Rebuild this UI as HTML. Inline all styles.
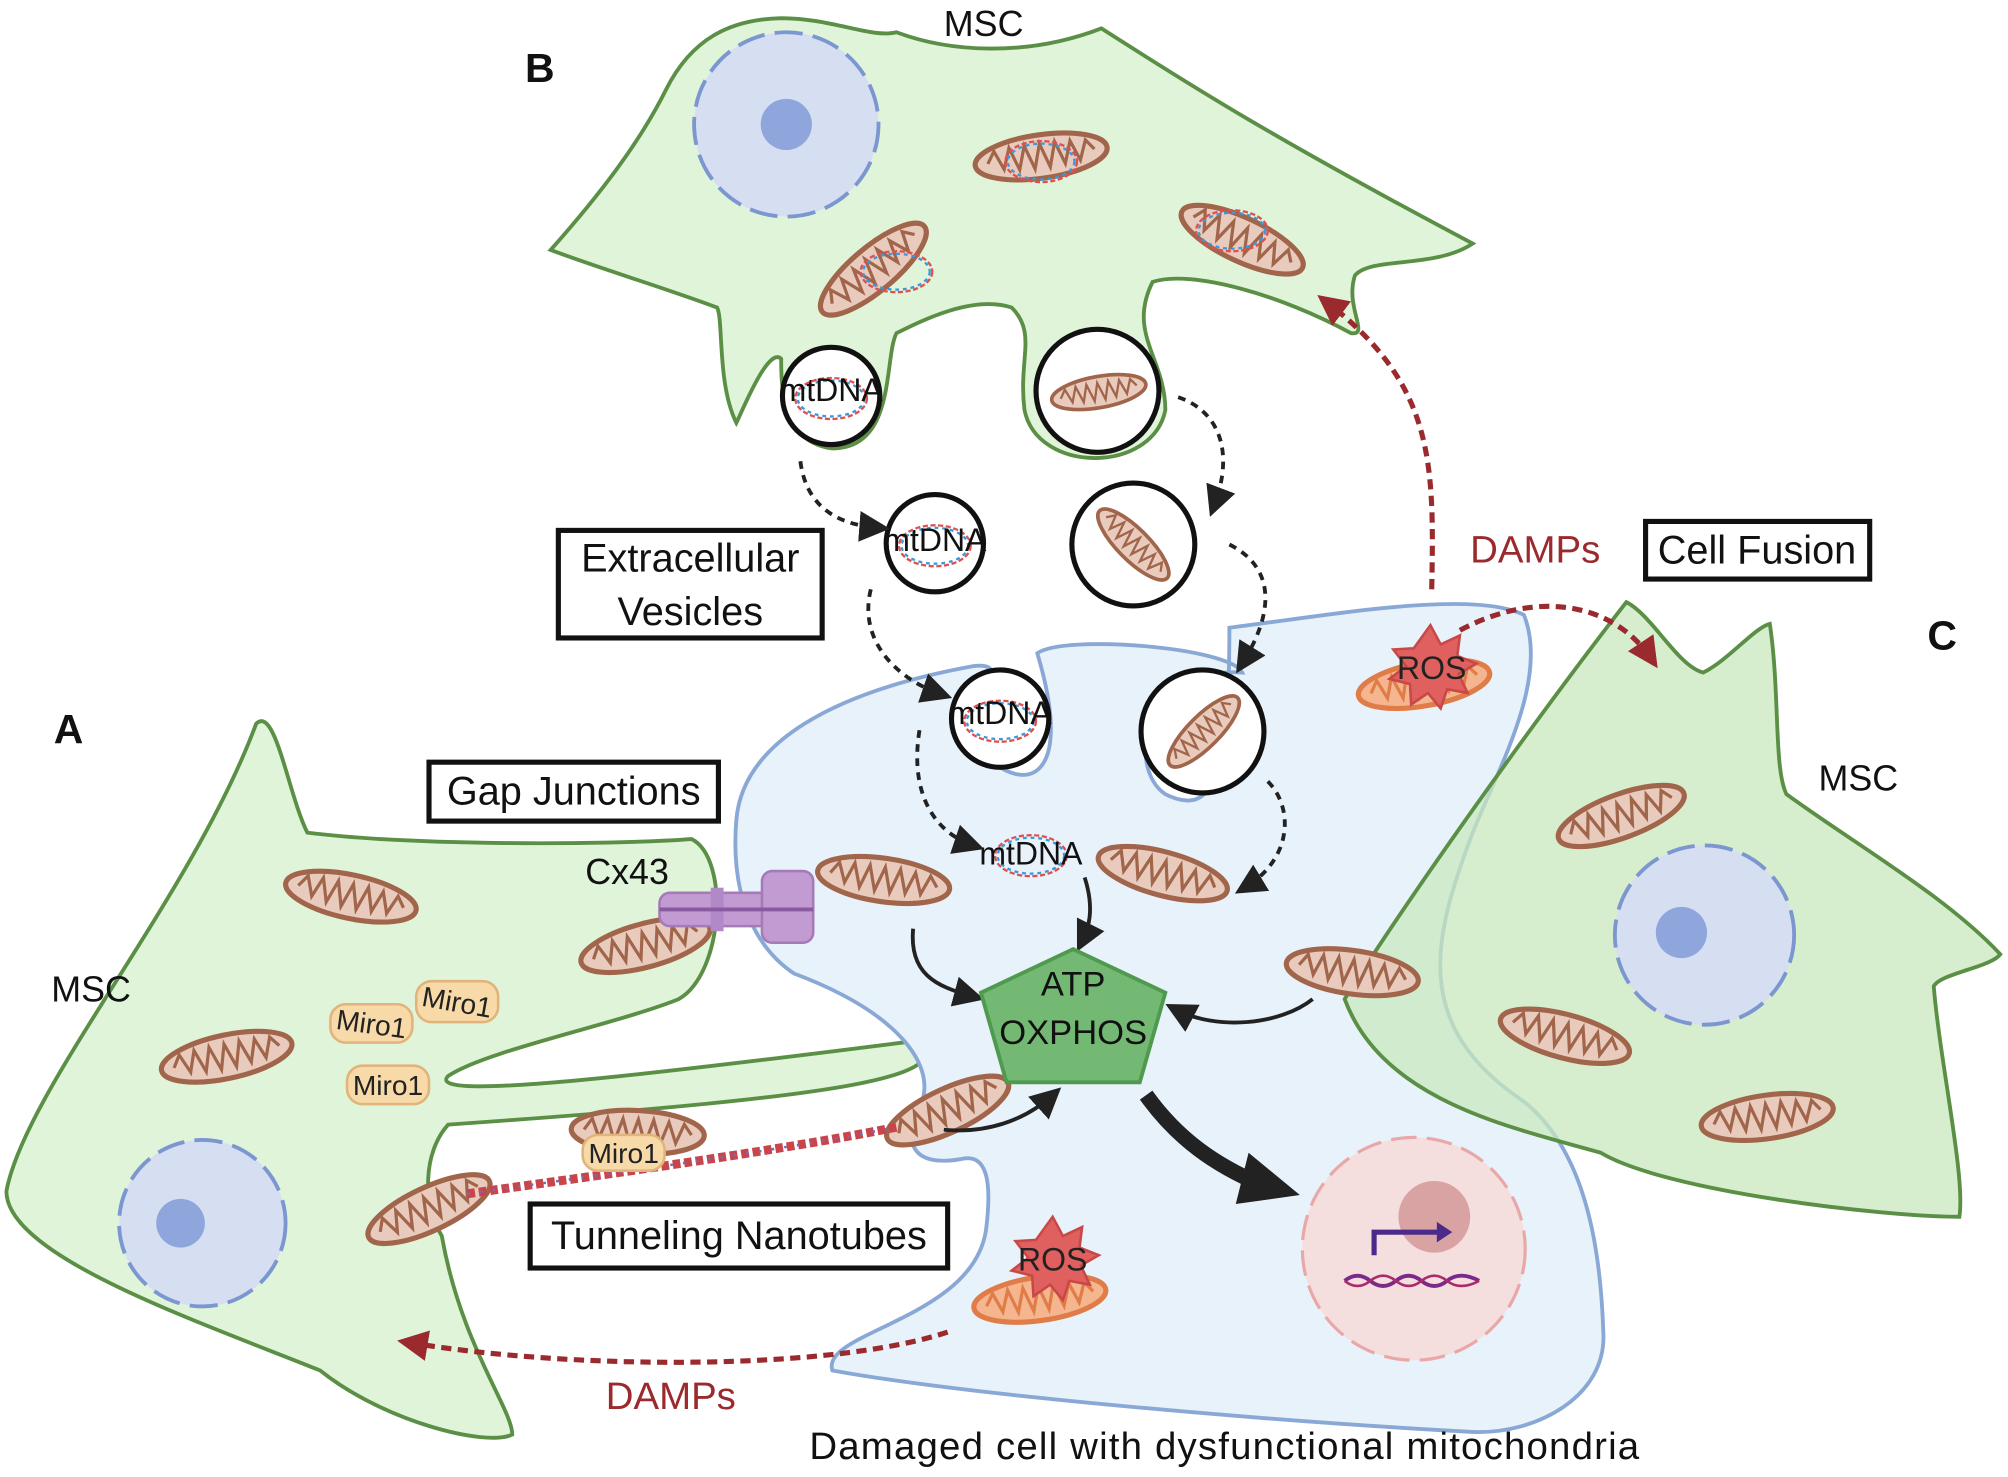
<!DOCTYPE html>
<html><head><meta charset="utf-8"><style>
html,body{margin:0;padding:0;background:#fff}
svg{display:block}
text{font-family:"Liberation Sans",sans-serif}
</style></head><body>
<svg width="2008" height="1477" viewBox="0 0 1568 1153" xmlns="http://www.w3.org/2000/svg">
<defs>
<symbol id="m" viewBox="-60 -22 120 44" overflow="visible">
<ellipse cx="0" cy="0" rx="52" ry="17" fill="#e9cbbd" stroke="#a0654a" stroke-width="4"/>
<path d="M-42 0 L-36 -9 L-30 6 L-24 -10 L-18 8 L-12 -10 L-6 9 L0 -10 L6 9 L12 -10 L18 8 L24 -9 L30 7 L36 -8 L42 0" fill="none" stroke="#a0654a" stroke-width="2.5"/>
</symbol>
<symbol id="mo" viewBox="-60 -22 120 44" overflow="visible">
<ellipse cx="0" cy="0" rx="52" ry="17" fill="#f5b58e" stroke="#e07c48" stroke-width="4"/>
<path d="M-42 0 L-36 -9 L-30 6 L-24 -10 L-18 8 L-12 -10 L-6 9 L0 -10 L6 9 L12 -10 L18 8 L24 -9 L30 7 L36 -8 L42 0" fill="none" stroke="#e07c48" stroke-width="2.5"/>
</symbol>
<symbol id="dna" viewBox="-30 -20 60 40" overflow="visible">
<ellipse cx="0" cy="0" rx="28" ry="16" fill="none" stroke="#e05050" stroke-width="1.8" stroke-dasharray="4 2"/>
<ellipse cx="0" cy="0" rx="26" ry="14" fill="none" stroke="#3a9ad9" stroke-width="1.8" stroke-dasharray="3 3"/>
</symbol>
<marker id="ab" markerWidth="8" markerHeight="8" refX="5" refY="4" orient="auto" markerUnits="strokeWidth"><path d="M0 0 L8 4 L0 8 z" fill="#222"/></marker>
<marker id="ar" markerWidth="6" markerHeight="6" refX="4" refY="3" orient="auto" markerUnits="strokeWidth"><path d="M0 0 L6 3 L0 6 z" fill="#9b2a2e"/></marker>
</defs>

<!-- A cell -->
<path d="M5 930 C20 850 150 700 200 565 C215 550 225 620 240 650 C320 660 470 660 540 655 C570 670 565 760 530 780 C480 800 380 820 350 840 C330 860 500 840 720 812 C740 840 680 855 350 878 C330 900 330 940 345 965 C360 1050 400 1100 400 1120 C380 1130 300 1110 250 1070 C150 1030 5 980 5 930 Z" fill="#e0f4da" stroke="#5a8f45" stroke-width="3"/>
<!-- Blue damaged cell -->
<path d="M575 640 C580 580 650 540 760 520 C800 515 740 560 770 590 C800 620 840 610 810 510 C830 495 960 505 970 525 C890 520 880 600 910 620 C950 640 960 600 960 490 C1040 480 1150 460 1190 480 C1210 530 1170 600 1150 650 C1120 730 1100 800 1190 860 C1240 900 1250 980 1252 1040 C1255 1090 1200 1120 1150 1118 C1000 1110 760 1090 650 1070 C640 1040 760 1030 770 960 C775 920 770 900 750 905 C720 910 700 900 720 860 C730 830 700 790 620 760 C590 740 570 700 575 640 Z" fill="#e8f2fb" stroke="#8aa8d6" stroke-width="3"/>
<!-- B cell -->
<path d="M430 195 C470 150 500 110 520 70 C540 30 570 15 610 14 C650 14 680 30 700 25 C740 40 800 45 860 22 C920 60 980 100 1150 190 C1120 210 1070 200 1058 215 C1050 240 1070 262 1055 260 C1000 230 930 210 900 220 C880 260 910 280 910 320 C900 370 810 370 800 320 C795 280 810 260 790 240 C760 230 720 250 700 260 C690 280 700 350 650 350 C610 345 610 300 610 280 C600 270 580 320 575 330 C560 300 565 250 560 240 C520 225 470 210 430 195 Z" fill="#e0f4da" stroke="#5a8f45" stroke-width="3"/>
<!-- C cell (semi-transparent) -->
<path d="M1050 780 C1100 700 1200 560 1270 470 C1290 480 1310 520 1330 525 C1350 515 1370 490 1382 487 C1390 540 1385 600 1395 620 C1450 660 1520 700 1562 745 C1555 755 1515 760 1510 770 C1515 830 1535 920 1530 950 C1470 950 1300 930 1250 900 C1180 880 1080 860 1050 780 Z" fill="rgba(200,232,190,0.75)" stroke="#5a8f45" stroke-width="3"/>

<!-- nuclei -->
<g fill="#d6def2" stroke="#7c96d0" stroke-width="3" stroke-dasharray="22 8">
<circle cx="614" cy="97" r="72"/>
<circle cx="158" cy="955" r="65"/>
<circle cx="1331" cy="730" r="70"/>
</g>
<g fill="#8fa6dc"><circle cx="614" cy="97" r="20"/><circle cx="141" cy="955" r="19"/><circle cx="1313" cy="728" r="20"/></g>
<circle cx="1104" cy="975" r="87" fill="#f5dede" stroke="#e9a8a8" stroke-width="2.5" stroke-dasharray="20 8"/>
<circle cx="1120" cy="950" r="28" fill="#d9a3a3"/>
<path d="M1073 980 V962 H1125" fill="none" stroke="#4b2a8a" stroke-width="4"/>
<path d="M1122 954 L1134 962 L1122 970z" fill="#4b2a8a"/>
<path d="M1050 1000 Q1060 992 1070 1000 T1090 1000 T1110 1000 T1130 1000 T1155 1000" fill="none" stroke="#7a2a8a" stroke-width="3"/>
<path d="M1050 1000 Q1060 1008 1070 1000 T1090 1000 T1110 1000 T1130 1000 T1155 1000" fill="none" stroke="#aa2a6a" stroke-width="2"/>

<!-- mitochondria -->
<use href="#m" x="753" y="100" width="120" height="44" transform="rotate(-8 813 122)"/>
<use href="#m" x="910" y="165" width="120" height="44" transform="rotate(25 970 187)"/>
<use href="#m" x="622" y="188" width="120" height="44" transform="rotate(-40 682 210)"/>
<use href="#m" x="214" y="678" width="120" height="44" transform="rotate(12 274 700)"/>
<use href="#m" x="117" y="803" width="120" height="44" transform="rotate(-12 177 825)"/>
<use href="#m" x="275" y="922" width="120" height="44" transform="rotate(-25 335 944)"/>
<use href="#m" x="444" y="716" width="120" height="44" transform="rotate(-15 504 738)"/>
<use href="#m" x="630" y="665" width="120" height="44" transform="rotate(8 690 687)"/>
<use href="#m" x="848" y="660" width="120" height="44" transform="rotate(15 908 682)"/>
<use href="#m" x="680" y="845" width="120" height="44" transform="rotate(-25 740 867)"/>
<use href="#m" x="438" y="862" width="120" height="44" transform="rotate(3 498 884)"/>
<use href="#m" x="996" y="737" width="120" height="44" transform="rotate(8 1056 759)"/>
<use href="#m" x="1206" y="615" width="120" height="44" transform="rotate(-20 1266 637)"/>
<use href="#m" x="1162" y="787" width="120" height="44" transform="rotate(15 1222 809)"/>
<use href="#m" x="1320" y="850" width="120" height="44" transform="rotate(-8 1380 872)"/>
<use href="#mo" x="1052" y="512" width="120" height="44" transform="rotate(-10 1112 534)"/>
<use href="#mo" x="752" y="992" width="120" height="44" transform="rotate(-8 812 1014)"/>

<!-- mtDNA rings -->
<use href="#dna" x="783" y="106" width="60" height="40"/>
<use href="#dna" x="932" y="160" width="60" height="40"/>
<use href="#dna" x="670" y="192" width="60" height="40"/>

<!-- vesicles -->
<g fill="#fff" stroke="#111" stroke-width="4">
<circle cx="649" cy="309" r="38"/>
<circle cx="857" cy="305" r="48"/>
<circle cx="730" cy="424" r="38"/>
<circle cx="885" cy="425" r="48"/>
<circle cx="781" cy="561" r="38"/>
<circle cx="939" cy="571" r="48"/>
</g>
<use href="#m" x="815" y="290" width="86" height="32" transform="rotate(-10 858 306)"/>
<use href="#m" x="842" y="409" width="86" height="32" transform="rotate(45 885 425)"/>
<use href="#m" x="897" y="555" width="86" height="32" transform="rotate(-45 940 571)"/>
<use href="#dna" x="619" y="291" width="60" height="40"/>
<use href="#dna" x="700" y="406" width="60" height="40"/>
<use href="#dna" x="751" y="543" width="60" height="40"/>
<use href="#dna" x="775" y="648" width="60" height="40"/>
<g font-size="25" fill="#111" text-anchor="middle">
<text x="649" y="313">mtDNA</text>
<text x="730" y="430">mtDNA</text>
<text x="781" y="565">mtDNA</text>
<text x="805" y="675">mtDNA</text>
</g>

<!-- dashed black arrows -->
<g fill="none" stroke="#222" stroke-width="3" stroke-dasharray="6 5" marker-end="url(#ab)">
<path d="M625 360 C630 400 660 410 686 412"/>
<path d="M920 310 C950 320 965 350 948 395"/>
<path d="M680 460 C670 500 700 530 735 542"/>
<path d="M960 425 C990 440 1000 470 970 518"/>
<path d="M718 570 C710 620 730 650 760 660"/>
<path d="M990 610 C1010 630 1010 670 972 693"/>
</g>
<!-- solid arrows -->
<g fill="none" stroke="#222" stroke-width="3" marker-end="url(#ab)">
<path d="M713 725 C710 760 730 770 760 778"/>
<path d="M847 685 C855 710 850 725 845 735"/>
<path d="M1025 780 C1000 800 950 805 918 788"/>
<path d="M737 882 C770 885 800 875 822 855"/>
</g>
<path d="M895 855 C920 890 950 910 985 925" fill="none" stroke="#222" stroke-width="12"/>
<path d="M975 900 L1015 933 L965 940 Z" fill="#222"/>

<!-- ATP pentagon -->
<path d="M838 741 L910 775 L890 845 L786 845 L766 775 Z" fill="#73b873" stroke="#4f9a4f" stroke-width="3"/>
<text x="838" y="777" font-size="27" text-anchor="middle" fill="#111">ATP</text>
<text x="838" y="815" font-size="27" text-anchor="middle" fill="#111">OXPHOS</text>

<!-- Cx43 connexon -->
<rect x="515" y="697" width="120" height="26" rx="8" fill="#c39bd3" stroke="#a57ab8" stroke-width="2"/>
<rect x="555" y="693" width="10" height="34" fill="#b188c8"/>
<rect x="595" y="680" width="40" height="56" rx="8" fill="#c39bd3" stroke="#a57ab8" stroke-width="2"/>
<line x1="515" y1="710" x2="635" y2="710" stroke="#8a5aa0" stroke-width="3"/>

<!-- Tunneling nanotube -->
<path d="M365 932 C450 920 600 900 700 880" fill="none" stroke="#c8454b" stroke-width="7" stroke-dasharray="6 3"/>
<path d="M365 932 C450 920 600 900 700 880" fill="none" stroke="#7a6ab0" stroke-width="2" stroke-dasharray="2 8"/>

<!-- Miro1 -->
<g fill="#f8d9a8" stroke="#e0b47a" stroke-width="2">
<rect x="258" y="784" width="64" height="30" rx="12"/>
<rect x="325" y="766" width="64" height="32" rx="12"/>
<rect x="271" y="832" width="64" height="30" rx="12"/>
<rect x="455" y="886" width="64" height="28" rx="12"/>
</g>
<g font-size="22" fill="#222" text-anchor="middle">
<text x="290" y="807" transform="rotate(8 290 800)">Miro1</text>
<text x="357" y="790" transform="rotate(10 357 782)">Miro1</text>
<text x="303" y="855">Miro1</text>
<text x="487" y="908">Miro1</text>
</g>

<!-- ROS stars -->
<g fill="#e06060" stroke="#c84848" stroke-width="2">
<path d="M1117 488 L1125 503 L1140 496 L1138 512 L1153 518 L1139 526 L1146 541 L1130 538 L1125 553 L1115 541 L1102 550 L1101 534 L1085 530 L1098 520 L1088 507 L1104 506 Z"/>
<path d="M822 950 L830 965 L845 958 L843 974 L858 980 L844 988 L851 1003 L835 1000 L830 1015 L820 1003 L807 1012 L806 996 L790 992 L803 982 L793 969 L809 968 Z"/>
</g>
<text x="1118" y="530" font-size="25" text-anchor="middle" fill="#222">ROS</text>
<text x="822" y="992" font-size="25" text-anchor="middle" fill="#222">ROS</text>

<!-- DAMPs red arrows -->
<g fill="none" stroke="#9b2a2e" stroke-width="4" stroke-dasharray="8 5">
<path d="M1118 460 C1120 360 1120 300 1035 235" marker-end="url(#ar)"/>
<path d="M1140 492 C1200 460 1260 470 1290 515" marker-end="url(#ar)"/>
<path d="M740 1040 C650 1070 450 1070 318 1048" marker-end="url(#ar)"/>
</g>

<!-- labels -->
<g font-size="28" fill="#111">
<text x="737" y="28">MSC</text>
<text x="40" y="782">MSC</text>
<text x="1420" y="617">MSC</text>
<text x="457" y="690">Cx43</text>
<text x="632" y="1139" font-size="30" textLength="648">Damaged cell with dysfunctional mitochondria</text>
</g>
<g font-size="30" fill="#9b2a2e"><text x="1148" y="439">DAMPs</text><text x="473" y="1100">DAMPs</text></g>
<g font-size="32" font-weight="bold" fill="#111"><text x="410" y="64">B</text><text x="42" y="580">A</text><text x="1505" y="507">C</text></g>
<g fill="#fff" stroke="#111" stroke-width="4">
<rect x="436" y="414" width="206" height="84"/>
<rect x="335" y="595" width="226" height="46"/>
<rect x="414" y="940" width="326" height="50"/>
<rect x="1285" y="407" width="175" height="45"/>
</g>
<g font-size="31" fill="#111" text-anchor="middle">
<text x="539" y="446">Extracellular</text><text x="539" y="488">Vesicles</text>
<text x="448" y="628">Gap Junctions</text>
<text x="577" y="975">Tunneling Nanotubes</text>
<text x="1372" y="440">Cell Fusion</text>
</g>
</svg>
</body></html>
